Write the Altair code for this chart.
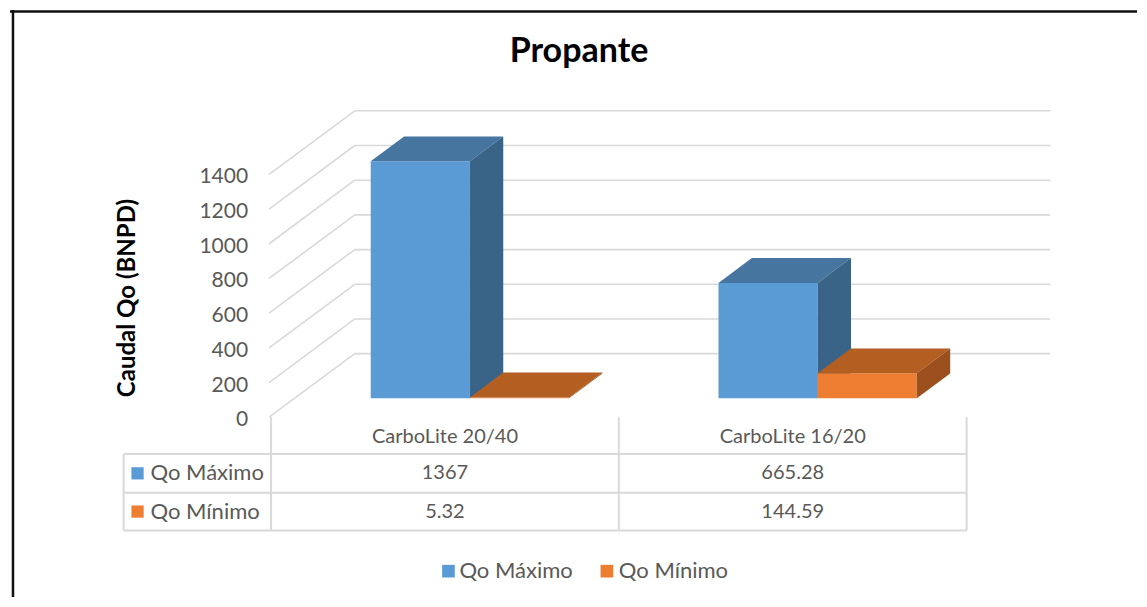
import altair as alt
import pandas as pd

# ---------------- data ----------------
categories = ["CarboLite 20/40", "CarboLite 16/20"]
series_names = ["Qo Máximo", "Qo Mínimo"]
qo_max = [1367, 665.28]
qo_min = [5.32, 144.59]
qo_max_labels = ["1367", "665.28"]
qo_min_labels = ["5.32", "144.59"]
y_ticks = [0, 200, 400, 600, 800, 1000, 1200, 1400]
title_text = "Propante"
y_title = "Caudal Qo (BNPD)"

front_colors = ["#5B9BD5", "#ED7D31"]
top_colors = ["#4675A0", "#B45F22"]
side_colors = ["#3A6487", "#9A4F1C"]

# ---------------- layout ----------------
W, H = 1131, 591
ORIGIN = 8
K = 244.5 / 1400          # px per value unit
BASE_Y = 399              # page y of value 0 on the bar front plane
FONT = "Lato"
GRID = "#D9D9D9"
LABEL = "#595959"


def X(px):
    return px - ORIGIN


def V(py):
    return (BASE_Y - py) / K


FLOOR_L, FLOOR_R = 268, 966       # front floor edge (page x)
WALL_DX = 86                      # depth offset of back wall (page px)
BACK_OFF = 45 / K                 # bar plane -> back wall (value units)
FRONT_OFF = 19 / K                # bar plane -> floor front edge
BAR_DX, BAR_DV = 33.5, 25 / K
BAR_W = 99.5
COL_EDGES = [270, 619, 968]
col_centers = [(COL_EDGES[i] + COL_EDGES[i + 1]) / 2 for i in range(2)]
bar_centers = [c + 25.0 for c in col_centers]

xs = alt.Scale(domain=[0, W], nice=False, zero=False)
ys = alt.Scale(domain=[V(ORIGIN + H), V(ORIGIN)], nice=False, zero=False)


def XE(f="x"):
    return alt.X(f"{f}:Q", scale=xs, axis=None)


def YE(f="y"):
    return alt.Y(f"{f}:Q", scale=ys, axis=None, stack=None)


layers = []

# back wall gridlines
grid_df = pd.DataFrame({
    "x": [X(FLOOR_L + WALL_DX)] * len(y_ticks),
    "x2": [X(FLOOR_R + WALL_DX)] * len(y_ticks),
    "y": [v + BACK_OFF for v in y_ticks],
})
layers.append(alt.Chart(grid_df).mark_rule(color=GRID, strokeWidth=1.6).encode(
    x=XE(), x2=alt.X2("x2"), y=YE()))

# side wall diagonals
diag_df = pd.DataFrame({
    "x": [X(FLOOR_L)] * len(y_ticks),
    "x2": [X(FLOOR_L + WALL_DX)] * len(y_ticks),
    "y": [v - FRONT_OFF for v in y_ticks],
    "y2": [v + BACK_OFF for v in y_ticks],
})
layers.append(alt.Chart(diag_df).mark_rule(color=GRID, strokeWidth=1.6).encode(
    x=XE(), x2=alt.X2("x2"), y=YE(), y2=alt.Y2("y2")))

# y axis labels
ylab_df = pd.DataFrame({"x": [X(247)] * len(y_ticks),
                        "y": [v - FRONT_OFF for v in y_ticks],
                        "t": [str(v) for v in y_ticks]})
layers.append(alt.Chart(ylab_df).mark_text(
    font=FONT, fontSize=21, color=LABEL, align="right", baseline="middle", dy=3
).encode(x=XE(), y=YE(), text="t:N"))

# 3D bars
for j, vals in enumerate([qo_max, qo_min]):
    fronts, tops, sides = [], [], []
    for i, v in enumerate(vals):
        xl = bar_centers[i] - BAR_W + j * BAR_W
        xr = xl + BAR_W
        fronts.append({"x": X(xl), "x2": X(xr), "y": 0, "y2": v})
        tid = f"top{i}"
        tops += [
            {"face": tid, "x": X(xl), "y": v, "y2": v},
            {"face": tid, "x": X(xl + BAR_DX), "y": v, "y2": v + BAR_DV},
            {"face": tid, "x": X(xr), "y": v, "y2": v + BAR_DV},
            {"face": tid, "x": X(xr + BAR_DX), "y": v + BAR_DV, "y2": v + BAR_DV},
        ]
        sid = f"side{i}"
        sides += [
            {"face": sid, "x": X(xr), "y": 0, "y2": v},
            {"face": sid, "x": X(xr + BAR_DX), "y": BAR_DV, "y2": v + BAR_DV},
        ]
    layers.append(alt.Chart(pd.DataFrame(fronts)).mark_rect(color=front_colors[j]).encode(
        x=XE(), x2=alt.X2("x2"), y=YE(), y2=alt.Y2("y2")))
    layers.append(alt.Chart(pd.DataFrame(tops)).mark_area(
        color=top_colors[j], orient="vertical", opacity=1).encode(
        x=XE(), y=YE(), y2=alt.Y2("y2"), detail="face:N"))
    layers.append(alt.Chart(pd.DataFrame(sides)).mark_area(
        color=side_colors[j], orient="vertical", opacity=1).encode(
        x=XE(), y=YE(), y2=alt.Y2("y2"), detail="face:N"))

# data table lines
T_TOP, R1, R2, R3 = 418, 455, 494, 532
TL = 122
hl = pd.DataFrame({"x": [X(TL)] * 3, "x2": [X(COL_EDGES[-1])] * 3,
                   "y": [V(R1), V(R2), V(R3)]})
layers.append(alt.Chart(hl).mark_rule(color=GRID, strokeWidth=2).encode(
    x=XE(), x2=alt.X2("x2"), y=YE()))
vl = pd.DataFrame({"x": [X(TL)] + [X(c) for c in COL_EDGES],
                   "y": [V(R1)] + [V(T_TOP)] * 3,
                   "y2": [V(R3)] * 4})
layers.append(alt.Chart(vl).mark_rule(color=GRID, strokeWidth=2).encode(
    x=XE(), y=YE(), y2=alt.Y2("y2")))

# table texts
cells = []
for i, c in enumerate(categories):
    cells.append({"x": X(col_centers[i]), "y": V(438), "t": c})
    cells.append({"x": X(col_centers[i]), "y": V((R1 + R2) / 2), "t": qo_max_labels[i]})
    cells.append({"x": X(col_centers[i]), "y": V((R2 + R3) / 2), "t": qo_min_labels[i]})
layers.append(alt.Chart(pd.DataFrame(cells)).mark_text(
    font=FONT, fontSize=20, color=LABEL, align="center", baseline="middle"
).encode(x=XE(), y=YE(), text="t:N"))

row_df = pd.DataFrame({
    "x": [X(149)] * 2, "sx": [X(136)] * 2,
    "y": [V((R1 + R2) / 2), V((R2 + R3) / 2)],
    "t": series_names, "col": front_colors})
layers.append(alt.Chart(row_df).mark_text(
    font=FONT, fontSize=22, color=LABEL, align="left", baseline="middle"
).encode(x=XE(), y=YE(), text="t:N"))
layers.append(alt.Chart(row_df).mark_square(size=150, opacity=1).encode(
    x=XE("sx"), y=YE(), color=alt.Color("col:N", scale=None)))

# legend
leg_df = pd.DataFrame({
    "sx": [X(448), X(607)], "x": [X(459), X(619)],
    "y": [V(573)] * 2, "t": series_names, "col": front_colors})
layers.append(alt.Chart(leg_df).mark_square(size=160, opacity=1).encode(
    x=XE("sx"), y=YE(), color=alt.Color("col:N", scale=None)))
layers.append(alt.Chart(leg_df).mark_text(
    font=FONT, fontSize=22, color=LABEL, align="left", baseline="middle"
).encode(x=XE(), y=YE(), text="t:N"))

# titles
ttl = pd.DataFrame({"x": [X(579)], "y": [V(50)], "t": [title_text]})
layers.append(alt.Chart(ttl).mark_text(
    font=FONT, fontSize=34, fontWeight="bold", color="#000000",
    align="center", baseline="middle").encode(x=XE(), y=YE(), text="t:N"))
yt = pd.DataFrame({"x": [X(126)], "y": [V(298)], "t": [y_title]})
layers.append(alt.Chart(yt).mark_text(
    font=FONT, fontSize=24, fontWeight="bold", color="#000000", angle=270,
    align="center", baseline="middle").encode(x=XE(), y=YE(), text="t:N"))

# outer frame (left and top)
frame_v = pd.DataFrame({"x": [X(11)], "y": [V(ORIGIN)], "y2": [V(ORIGIN + H)]})
layers.append(alt.Chart(frame_v).mark_rule(color="#111111", strokeWidth=2.5).encode(
    x=XE(), y=YE(), y2=alt.Y2("y2")))
frame_h = pd.DataFrame({"x": [X(ORIGIN)], "x2": [X(ORIGIN + W)], "y": [V(9.5)]})
layers.append(alt.Chart(frame_h).mark_rule(color="#111111", strokeWidth=2.5).encode(
    x=XE(), x2=alt.X2("x2"), y=YE()))

chart = alt.layer(*layers).properties(
    width=W, height=H, padding=0,
    autosize=alt.AutoSizeParams(type="fit", contains="padding"),
    background="white",
).configure_view(stroke=None)

chart.save("out.html", embed_options={"renderer": "svg", "actions": False})
